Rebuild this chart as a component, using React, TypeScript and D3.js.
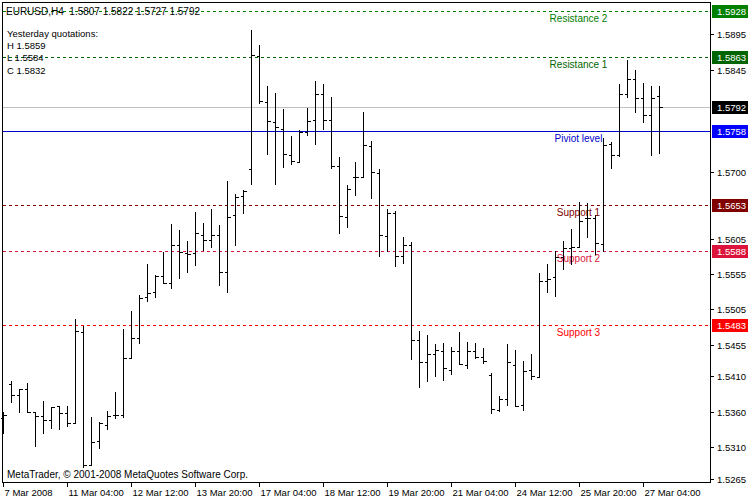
import React from "react";
import * as d3 from "d3";

const W = 750;
const H = 500;

// OHLC H4 bars (EURUSD, 7 Mar 2008 20:00 .. 27 Mar 2008 12:00)
const open = [1.5351,1.5399,1.5383,1.5392,1.5360,1.5354,1.5348,1.5368,1.5358,1.5344,
 1.5473,1.5284,1.5318,1.5341,1.5355,1.5356,1.5436,1.5464,1.5522,1.5529,
 1.5552,1.5542,1.5596,1.5585,1.5585,1.5610,1.5603,1.5610,1.5558,1.5639,
 1.5666,1.5704,1.5864,1.5799,1.5770,1.5761,1.5724,1.5714,1.5756,1.5774,
 1.5811,1.5774,1.5709,1.5636,1.5692,1.5693,1.5737,1.5699,1.5609,1.5642,
 1.5581,1.5597,1.5462,1.5431,1.5442,1.5446,1.5419,1.5446,1.5426,1.5446,
 1.5437,1.5412,1.5363,1.5378,1.5426,1.5369,1.5419,1.5409,1.5545,1.5551,
 1.5579,1.5592,1.5594,1.5634,1.5634,1.5598,1.5740,1.5724,1.5810,1.5831,
 1.5804,1.5781,1.5807];
const high = [1.5360,1.5404,1.5392,1.5400,1.5360,1.5375,1.5367,1.5368,1.5368,1.5492,
 1.5482,1.5352,1.5345,1.5361,1.5388,1.5477,1.5503,1.5525,1.5570,1.5554,
 1.5586,1.5626,1.5617,1.5602,1.5643,1.5628,1.5648,1.5625,1.5687,1.5669,
 1.5674,1.5901,1.5880,1.5822,1.5812,1.5789,1.5751,1.5759,1.5790,1.5829,
 1.5825,1.5806,1.5721,1.5682,1.5714,1.5785,1.5744,1.5704,1.5648,1.5644,
 1.5607,1.5601,1.5474,1.5469,1.5456,1.5457,1.5452,1.5473,1.5459,1.5458,
 1.5450,1.5415,1.5382,1.5456,1.5448,1.5432,1.5442,1.5557,1.5569,1.5588,
 1.5602,1.5619,1.5657,1.5656,1.5639,1.5748,1.5743,1.5825,1.5859,1.5844,
 1.5826,1.5822,1.5822];
const low = [1.5330,1.5374,1.5360,1.5359,1.5312,1.5330,1.5337,1.5335,1.5339,1.5344,
 1.5281,1.5284,1.5308,1.5335,1.5351,1.5352,1.5436,1.5458,1.5517,1.5522,
 1.5542,1.5535,1.5549,1.5558,1.5568,1.5589,1.5594,1.5539,1.5530,1.5596,
 1.5642,1.5683,1.5797,1.5725,1.5683,1.5707,1.5711,1.5714,1.5752,1.5740,
 1.5761,1.5706,1.5613,1.5622,1.5667,1.5693,1.5663,1.5580,1.5588,1.5567,
 1.5571,1.5435,1.5395,1.5403,1.5411,1.5405,1.5414,1.5427,1.5422,1.5436,
 1.5429,1.5358,1.5361,1.5370,1.5368,1.5362,1.5407,1.5409,1.5530,1.5524,
 1.5562,1.5570,1.5594,1.5607,1.5584,1.5588,1.5705,1.5723,1.5806,1.5785,
 1.5771,1.5724,1.5727];
const close = [1.5355,1.5383,1.5392,1.5359,1.5354,1.5348,1.5367,1.5358,1.5344,1.5475,
 1.5284,1.5317,1.5344,1.5354,1.5355,1.5436,1.5464,1.5521,1.5528,1.5552,
 1.5542,1.5597,1.5586,1.5583,1.5613,1.5603,1.5610,1.5558,1.5636,1.5664,
 1.5673,1.5866,1.5800,1.5772,1.5763,1.5726,1.5715,1.5756,1.5772,1.5810,
 1.5774,1.5709,1.5637,1.5675,1.5693,1.5738,1.5700,1.5610,1.5641,1.5581,
 1.5597,1.5462,1.5431,1.5442,1.5448,1.5422,1.5446,1.5427,1.5446,1.5437,
 1.5432,1.5364,1.5378,1.5430,1.5368,1.5417,1.5411,1.5545,1.5548,1.5579,
 1.5592,1.5594,1.5630,1.5634,1.5599,1.5738,1.5724,1.5811,1.5832,1.5805,
 1.5781,1.5804,1.5792];

const timeTickIndex = [0, 8, 16, 24, 32, 40, 48, 56, 64, 72, 80];
const timeTickLabels = ["7 Mar 2008", "11 Mar 04:00", "12 Mar 12:00", "13 Mar 20:00", "17 Mar 04:00",
  "18 Mar 12:00", "19 Mar 20:00", "21 Mar 04:00", "24 Mar 12:00", "25 Mar 20:00", "27 Mar 04:00"];

const priceTicks = [1.5895, 1.5845, 1.5700, 1.5605, 1.5555, 1.5505,
  1.5455, 1.5410, 1.5360, 1.5310, 1.5265];

const levelNames = ["Resistance 2", "Resistance 1", "Piviot level", "Support 1", "Support 2", "Support 3"];
const levelValues = [1.5928, 1.5863, 1.5758, 1.5653, 1.5588, 1.5483];
const levelColors = ["#008000", "#006400", "#0000cd", "#800000", "#dc143c", "#ff0000"];
const levelTagColors = ["#008000", "#006400", "#0000ff", "#800000", "#dc143c", "#ff0000"];
const levelDashed = [true, true, false, true, true, true];

const bidPrice = 1.5792;
const headerText = "EURUSD,H4  1.5807 1.5822 1.5727 1.5792";
const infoLines = ["Yesterday quotations:", "H 1.5859", "L 1.5584", "C 1.5832"];
const copyright = "MetaTrader, \u00a9 2001-2008 MetaQuotes Software Corp.";

const FONT = "'Liberation Sans', Arial, sans-serif";

export default function App() {
  const left = 2.5, right = 710.5, top = 2.5, bottom = 482.5;
  const y = d3.scaleLinear().domain([1.526032, 1.594079]).range([482, 2]);
  const x = d3.scaleLinear().domain([0, close.length - 1]).range([3, 3 + 8 * (close.length - 1)]);
  const px = (i: number) => Math.round(x(i)) + 0.5;
  const py = (v: number) => Math.round(y(v)) + 0.5;

  const barPath = d3.range(close.length).map((i) => {
    const cx = px(i);
    const p = d3.path();
    p.moveTo(cx, Math.round(y(high[i])));
    p.lineTo(cx, Math.round(y(low[i])) + 1);
    p.moveTo(cx - 3, py(open[i]));
    p.lineTo(cx, py(open[i]));
    p.moveTo(cx, py(close[i]));
    p.lineTo(cx + 3.5, py(close[i]));
    return p.toString();
  }).join("");

  return (
    <svg width={W} height={H} style={{ position: "absolute", left: 0, top: 0, display: "block", background: "#fff" }}
      fontFamily={FONT}>
      <rect x={0} y={0} width={W} height={H} fill="#fff" />
      {/* level lines */}
      {levelValues.map((v, k) => (
        <line key={"l" + k} x1={left} x2={right} y1={py(v)} y2={py(v)} stroke={levelColors[k]}
          strokeWidth={1} strokeDasharray={levelDashed[k] ? "3,3" : undefined} shapeRendering="crispEdges" />
      ))}
      <line x1={left} x2={right} y1={py(bidPrice)} y2={py(bidPrice)} stroke="#c0c0c0" strokeWidth={1}
        shapeRendering="crispEdges" />
      {/* level names */}
      {levelValues.map((v, k) => (
        <text key={"n" + k} x={578.5} y={Math.round(y(v)) + 10.5} textAnchor="middle" fontSize={10}
          fill={levelColors[k]}>{levelNames[k]}</text>
      ))}
      {/* bars */}
      <path d={barPath} stroke="#000" strokeWidth={1} fill="none" shapeRendering="crispEdges" />
      {/* frame */}
      <rect x={left} y={top} width={right - left} height={bottom - top} fill="none" stroke="#000" strokeWidth={1}
        shapeRendering="crispEdges" />
      {/* price axis */}
      {priceTicks.map((v, k) => (
        <g key={"p" + k}>
          <line x1={right} x2={right + 3} y1={py(v)} y2={py(v)} stroke="#000" shapeRendering="crispEdges" />
          <text x={717} y={Math.round(y(v)) + 4} fontSize={9.5} fill="#000">{v.toFixed(4)}</text>
        </g>
      ))}
      {/* price tags */}
      {[...levelValues.map((v, k) => ({ v, c: levelTagColors[k] })), { v: bidPrice, c: "#000" }].map((t, k) => (
        <g key={"t" + k}>
          <rect x={712} y={Math.round(y(t.v)) - 6} width={36} height={13} fill={t.c} />
          <text x={717} y={Math.round(y(t.v)) + 4} fontSize={9.5} fill="#fff">{t.v.toFixed(4)}</text>
        </g>
      ))}
      {/* time axis */}
      {timeTickIndex.map((idx, k) => (
        <g key={"x" + k}>
          <line x1={px(idx)} x2={px(idx)} y1={bottom} y2={bottom + 4} stroke="#000" shapeRendering="crispEdges" />
          <text x={px(idx) + 1} y={496} fontSize={9.5} fill="#000">{timeTickLabels[k]}</text>
        </g>
      ))}
      {/* header texts */}
      <text x={6} y={15} fontSize={10} fill="#000" style={{ whiteSpace: "pre" }}>{headerText}</text>
      {infoLines.map((s, k) => (
        <text key={"i" + k} x={7} y={37 + k * 12 - (k === 3 ? -0.5 : 0)} fontSize={9.5} fill="#000">{s}</text>
      ))}
      <text x={7} y={478} fontSize={10} fill="#000">{copyright}</text>
    </svg>
  );
}
